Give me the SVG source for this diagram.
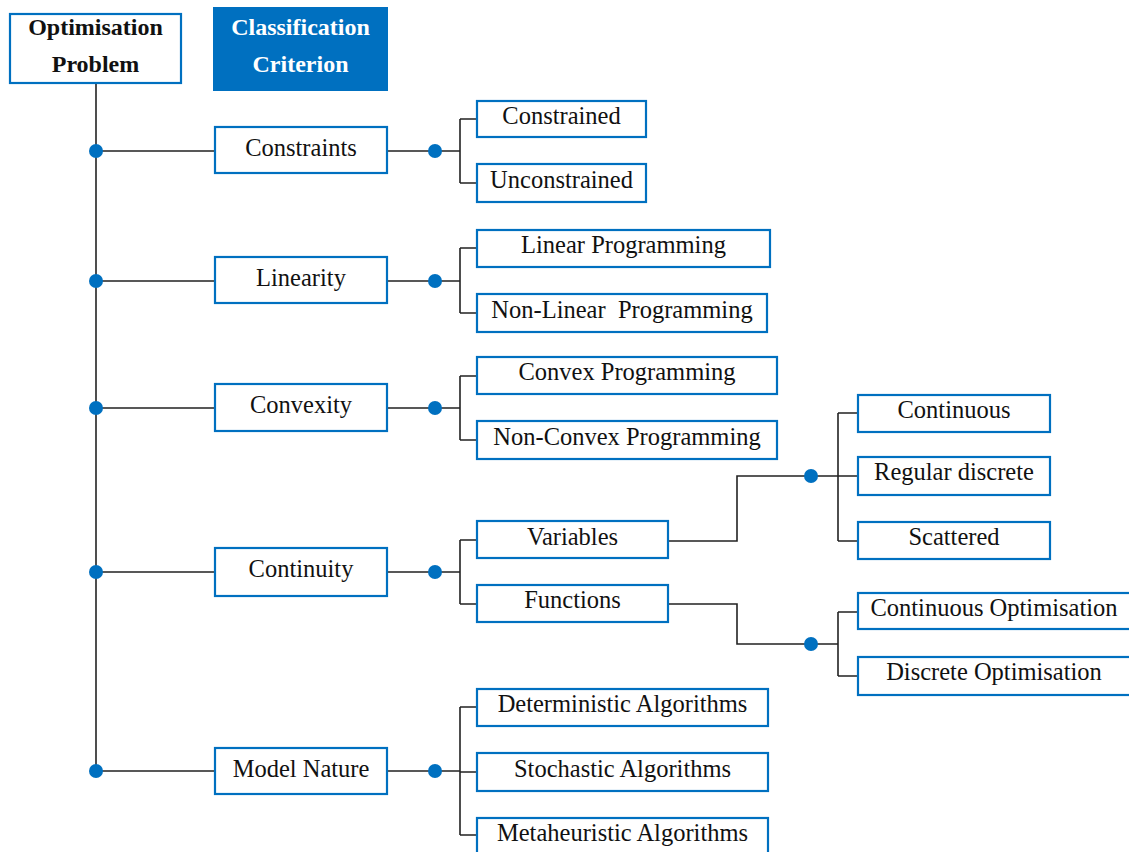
<svg xmlns="http://www.w3.org/2000/svg" width="1129" height="852" viewBox="0 0 1129 852">
<style>
.box{fill:#fff;stroke:#0070C0;stroke-width:2.2}
.hdr{fill:#0070C0;stroke:#0070C0;stroke-width:2}
.t{font-family:"Liberation Serif","Times New Roman",serif;font-size:24.5px;fill:#111;text-anchor:middle}
.b{font-family:"Liberation Serif","Times New Roman",serif;font-size:24px;font-weight:bold;text-anchor:middle}
.ln{fill:none;stroke:#222;stroke-width:1.6}
.dot{fill:#0070C0}
</style>
<rect width="1129" height="852" fill="#fff"/>
<g id="connectors">
<path class="ln" d="M96 83V771"/>
<path class="ln" d="M96 151H215M96 281H215M96 408H215M96 572H215M96 771H215"/>
<path class="ln" d="M387 151H460M460 119V183M460 119H477M460 183H477"/>
<path class="ln" d="M387 281H460M460 248V313M460 248H477M460 313H477"/>
<path class="ln" d="M387 408H460M460 376V440M460 376H477M460 440H477"/>
<path class="ln" d="M387 572H460M460 540V604M460 540H477M460 604H477"/>
<path class="ln" d="M387 771H460M460 707V835M460 707H477M460 772H477M460 835H477"/>
<path class="ln" d="M668 541H737V476H838M838 413V541M838 413H858M838 476H858M838 541H858"/>
<path class="ln" d="M668 604H737V644H838M838 612V676M838 612H858M838 676H858"/>
<circle class="dot" cx="96" cy="151" r="7"/>
<circle class="dot" cx="96" cy="281" r="7"/>
<circle class="dot" cx="96" cy="408" r="7"/>
<circle class="dot" cx="96" cy="572" r="7"/>
<circle class="dot" cx="96" cy="771" r="7"/>
<circle class="dot" cx="435" cy="151" r="7"/>
<circle class="dot" cx="435" cy="281" r="7"/>
<circle class="dot" cx="435" cy="408" r="7"/>
<circle class="dot" cx="435" cy="572" r="7"/>
<circle class="dot" cx="435" cy="771" r="7"/>
<circle class="dot" cx="811" cy="476" r="7"/>
<circle class="dot" cx="811" cy="644" r="7"/>
</g>
<g id="optimisation-problem"><rect class="box" x="10" y="14" width="171" height="69"/><text class="b" x="95.5" y="35" fill="#111">Optimisation</text><text class="b" x="95.5" y="72" fill="#111">Problem</text></g>
<g id="classification-criterion"><rect class="hdr" x="214" y="8" width="173" height="82"/><text class="b" x="300.5" y="35" fill="#fff">Classification</text><text class="b" x="300.5" y="72" fill="#fff">Criterion</text></g>
<g id="constraints"><rect class="box" x="215" y="127" width="172" height="46"/><text class="t" x="301" y="156">Constraints</text></g>
<g id="linearity"><rect class="box" x="215" y="257" width="172" height="46"/><text class="t" x="301" y="286">Linearity</text></g>
<g id="convexity"><rect class="box" x="215" y="384" width="172" height="47"/><text class="t" x="301" y="413">Convexity</text></g>
<g id="continuity"><rect class="box" x="215" y="548" width="172" height="48"/><text class="t" x="301" y="577">Continuity</text></g>
<g id="model-nature"><rect class="box" x="215" y="748" width="172" height="46"/><text class="t" x="301" y="777">Model Nature</text></g>
<g id="constrained"><rect class="box" x="477" y="101" width="169" height="36"/><text class="t" x="561.5" y="124">Constrained</text></g>
<g id="unconstrained"><rect class="box" x="477" y="164" width="169" height="38"/><text class="t" x="561.5" y="188">Unconstrained</text></g>
<g id="linear-programming"><rect class="box" x="477" y="230" width="293" height="37"/><text class="t" x="623.5" y="253">Linear Programming</text></g>
<g id="non-linear-programming"><rect class="box" x="477" y="294" width="290" height="38"/><text class="t" x="622" y="318" xml:space="preserve">Non-Linear  Programming</text></g>
<g id="convex-programming"><rect class="box" x="477" y="357" width="300" height="37"/><text class="t" x="627" y="380">Convex Programming</text></g>
<g id="non-convex-programming"><rect class="box" x="477" y="421" width="300" height="38"/><text class="t" x="627" y="445">Non-Convex Programming</text></g>
<g id="variables"><rect class="box" x="477" y="521" width="191" height="37"/><text class="t" x="572.5" y="545">Variables</text></g>
<g id="functions"><rect class="box" x="477" y="585" width="191" height="37"/><text class="t" x="572.5" y="608">Functions</text></g>
<g id="continuous"><rect class="box" x="858" y="395" width="192" height="37"/><text class="t" x="954" y="418">Continuous</text></g>
<g id="regular-discrete"><rect class="box" x="858" y="457" width="192" height="38"/><text class="t" x="954" y="480">Regular discrete</text></g>
<g id="scattered"><rect class="box" x="858" y="522" width="192" height="37"/><text class="t" x="954" y="545">Scattered</text></g>
<g id="continuous-optimisation"><rect class="box" x="858" y="593" width="275" height="36"/><text class="t" x="994" y="616">Continuous Optimisation</text></g>
<g id="discrete-optimisation"><rect class="box" x="858" y="657" width="275" height="38"/><text class="t" x="994" y="680">Discrete Optimisation</text></g>
<g id="deterministic-algorithms"><rect class="box" x="477" y="689" width="291" height="37"/><text class="t" x="622.5" y="712">Deterministic Algorithms</text></g>
<g id="stochastic-algorithms"><rect class="box" x="477" y="753" width="291" height="38"/><text class="t" x="622.5" y="777">Stochastic Algorithms</text></g>
<g id="metaheuristic-algorithms"><rect class="box" x="477" y="818" width="291" height="40"/><text class="t" x="622.5" y="841">Metaheuristic Algorithms</text></g>
</svg>
